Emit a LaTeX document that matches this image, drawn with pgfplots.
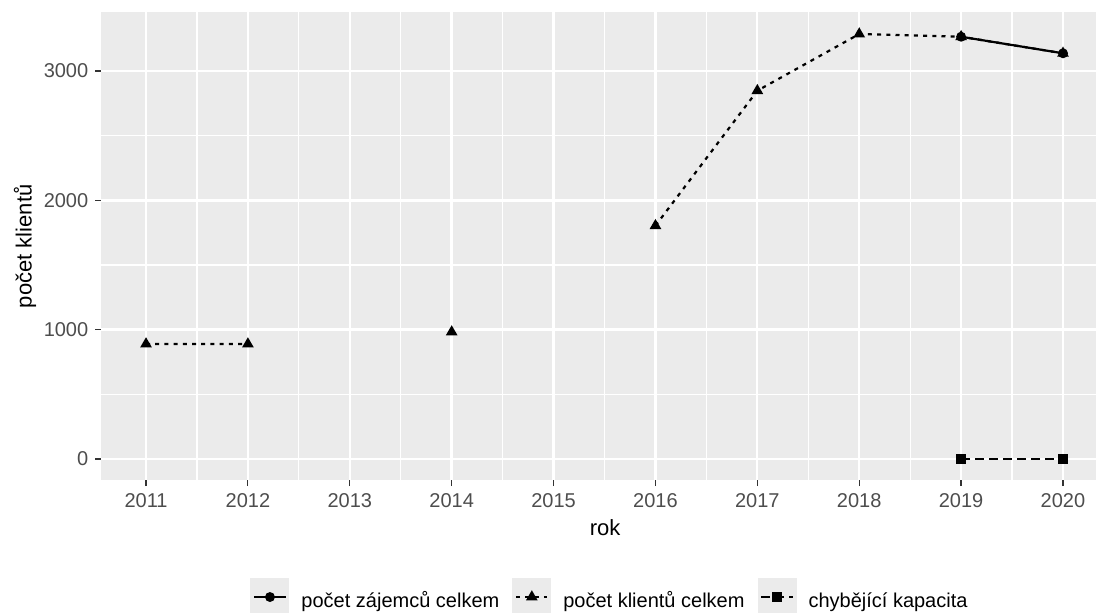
\documentclass[border=0pt]{standalone}
\usepackage{fontspec}
\setmainfont{Liberation Sans}
\usepackage{pgfplots}
\pgfplotsset{compat=1.18}
\definecolor{panelgrey}{HTML}{EBEBEB}
\definecolor{tickgrey}{HTML}{4D4D4D}
\definecolor{tickmark}{HTML}{333333}
\begin{document}
\begin{tikzpicture}
\useasboundingbox (0,0) rectangle (548pt,306pt);
\begin{axis}[
  at={(50.75pt,66pt)}, anchor=south west,
  scale only axis, width=497.25pt, height=233.75pt,
  xmin=2010.563, xmax=2020.324, ymin=-162.4, ymax=3452.5,
  xtick={2011,...,2020}, minor xtick={2011.5,2012.5,...,2019.5},
  ytick={0,1000,2000,3000}, minor ytick={500,1500,2500},
  grid=both,
  major grid style={white, line width=1.2pt},
  minor grid style={white, line width=0.6pt},
  axis background/.style={fill=panelgrey},
  axis line style={draw=none},
  tick align=outside, tick pos=left,
  major tick length=3.1pt, minor tick length=0pt,
  tick style={tickmark, line width=0.6pt},
  /pgf/number format/assume math mode=true,
  /pgf/number format/1000 sep={},
  ticklabel style={font=\fontsize{10}{12}\selectfont, text=tickgrey},
  xlabel={rok},
  xlabel style={at={(axis description cs:0.5063,-0.1027)}, anchor=center, font=\fontsize{11}{13}\selectfont},
  ylabel={počet klientů},
  ylabel style={at={(axis description cs:-0.0770,0.5)}, anchor=center, font=\fontsize{11}{13}\selectfont},
  unbounded coords=jump,
  legend columns=3,
  legend style={draw=none, fill=none, at={(0.5103,-0.2503)}, anchor=center,
    font=\fontsize{10}{12}\selectfont,
    /tikz/every odd column/.append style={column sep=6pt},
    /tikz/every even column/.append style={column sep=6.5pt},
    nodes={inner sep=0pt}},
  legend image code/.code={
    \fill[panelgrey, draw=none, solid] (0pt,-7.55pt) rectangle (19.5pt,11.95pt);
    \draw[mark repeat=2,mark phase=2,#1] plot coordinates {(1.95pt,2.2pt) (9.75pt,2.2pt) (17.55pt,2.2pt)};
  },
]
\addplot[black, line width=1.1pt, mark=*, mark size=1.9pt, mark options={solid}]
  coordinates {(2019,3265) (2020,3137)};
\addlegendentry{počet zájemců celkem}
\addplot[black, line width=1.1pt, dash pattern=on 2pt off 2.6pt, mark=triangle*, mark size=2.3pt, mark options={solid}]
  coordinates {(2011,889) (2012,889) (2013,nan) (2014,982) (2015,nan) (2016,1804) (2017,2848) (2018,3286) (2019,3265) (2020,3137)};
\addlegendentry{počet klientů celkem}
\addplot[black, line width=1.1pt, dash pattern=on 4.5pt off 2.5pt, mark=square*, mark size=2pt, mark options={solid}]
  coordinates {(2019,0) (2020,0)};
\addlegendentry{chybějící kapacita}
\end{axis}
\end{tikzpicture}
\end{document}
